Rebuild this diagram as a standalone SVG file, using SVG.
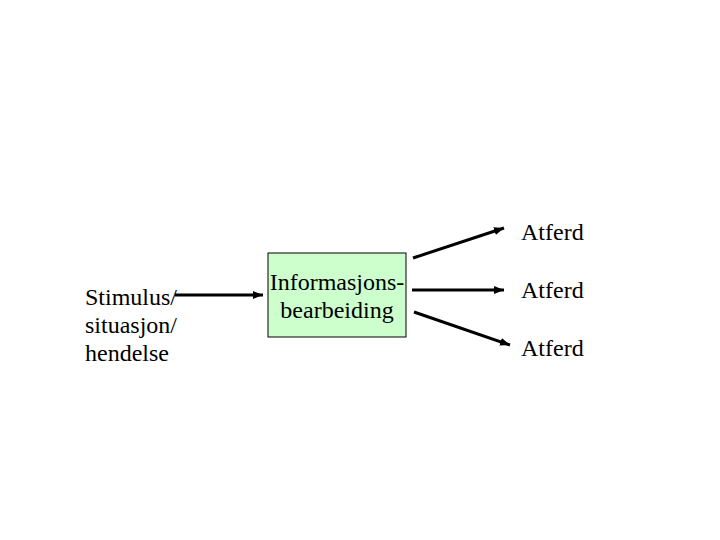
<svg xmlns="http://www.w3.org/2000/svg" width="720" height="540" viewBox="0 0 720 540">
<style>
text{font-family:'Liberation Serif','Times New Roman','DejaVu Serif',serif;font-size:24px;fill:#000}
.c{stroke:#000;stroke-width:3;fill:none}
</style>
<defs>
<marker id="ah" viewBox="0 0 10 8" refX="10" refY="4" markerWidth="10" markerHeight="8" markerUnits="userSpaceOnUse" orient="auto">
<path d="M0,0 L10,4 L0,8 z" fill="#000"/>
</marker>
</defs>
<rect width="720" height="540" fill="#fff"/>
<g id="stimulus" font-family="Liberation Serif, serif">
<text x="85" y="305">Stimulus/</text>
<text x="85" y="333">situasjon/</text>
<text x="85" y="361">hendelse</text>
</g>
<g id="info">
<rect x="268" y="253" width="138" height="84" fill="#ccffcc" stroke="#000" stroke-width="1"/>
<text x="337" y="290" text-anchor="middle">Informasjons-</text>
<text x="337" y="318" text-anchor="middle">bearbeiding</text>
</g>
<g id="atferd1"><text x="521" y="240">Atferd</text></g>
<g id="atferd2"><text x="521" y="298">Atferd</text></g>
<g id="atferd3"><text x="521" y="356">Atferd</text></g>
<g id="connectors">
<line class="c" x1="175" y1="295" x2="263" y2="295" marker-end="url(#ah)"/>
<line class="c" x1="413" y1="258" x2="504" y2="228" marker-end="url(#ah)"/>
<line class="c" x1="412" y1="290" x2="504" y2="290" marker-end="url(#ah)"/>
<line class="c" x1="414" y1="312" x2="510" y2="345" marker-end="url(#ah)"/>
</g>
</svg>
